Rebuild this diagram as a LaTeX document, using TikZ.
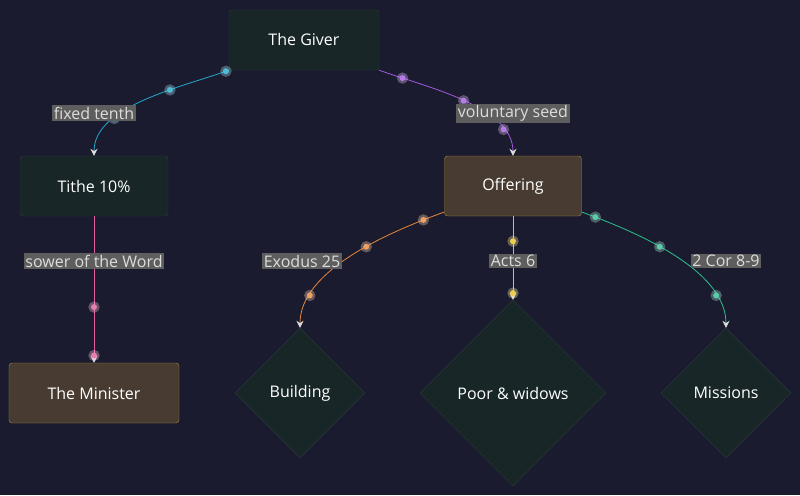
\documentclass[tikz,border=0pt]{standalone}
\usepackage{fontspec}
\setmainfont{Open Sans}
\usetikzlibrary{arrows.meta,shapes.geometric}
\definecolor{bg}{HTML}{1A1B2E}
\definecolor{boxdark}{HTML}{182628}
\definecolor{boxbrown}{HTML}{483C32}
\definecolor{gold}{HTML}{A8863C}
\definecolor{lblbg}{HTML}{5E5E5E}
\definecolor{tip}{HTML}{DDDDDD}
\definecolor{ccyan}{HTML}{22AACC}
\definecolor{cpurple}{HTML}{A259E0}
\definecolor{cpink}{HTML}{E05C9C}
\definecolor{corange}{HTML}{E8883A}
\definecolor{cyellow}{HTML}{E8C020}
\definecolor{cgreen}{HTML}{2EC090}
\tikzset{
  box/.style={rectangle, rounded corners=3pt, minimum width=150pt, minimum height=60pt,
    fill=boxdark, draw=boxdark!90!white, text=white, font=\fontsize{16}{19}\selectfont},
  boxb/.style={box, fill=boxbrown, draw=gold, minimum width=137pt},
  dia/.style={diamond, fill=boxdark, draw=boxdark!90!white, text=white, aspect=1,
    inner sep=0pt, font=\fontsize{16}{19}\selectfont},
  lbl/.style={fill=lblbg, text=tip, inner sep=1.5pt, font=\fontsize{16}{19}\selectfont},
  link/.style={line width=0.8pt, -{Stealth[length=7pt,width=7pt,color=tip]}},
  dot/.style={circle, fill=#1, inner sep=0pt, minimum size=6pt,
    draw=white!60!#1, draw opacity=0.35, line width=5pt},
}
\begin{document}
\begin{tikzpicture}[x=1pt,y=-1pt]
  \fill[bg] (0,0) rectangle (800,495);
  \useasboundingbox (0,0) rectangle (800,495);
  % nodes
  \node[box]  (giver)    at (304,40)  {The Giver};
  \node[box, minimum width=148pt] (tithe) at (94,186) {Tithe 10\%};
  \node[boxb] (offering) at (513,186) {Offering};
  \node[boxb, minimum width=170pt] (minister) at (94,393) {The Minister};
  \node[dia, minimum size=130pt] (building) at (300,393) {Building};
  \node[dia, minimum size=186pt] (poor)     at (513,393) {Poor \& widows};
  \node[dia, minimum size=130pt] (missions) at (726,393) {Missions};
  % connectors
  \draw[link, ccyan] (giver.south west) to[out=200,in=90,looseness=0.8]
    node[dot=ccyan,pos=0.02]{} node[dot=ccyan,pos=0.35]{} node[dot=ccyan,pos=0.7]{} (tithe.north);
  \draw[link, cpurple] (giver.south east) to[out=-20,in=90,looseness=0.8]
    node[dot=cpurple,pos=0.15]{} node[dot=cpurple,pos=0.5]{} node[dot=cpurple,pos=0.8]{} (offering.north);
  \draw[link, cpink] (tithe.south) --
    node[dot=cpink,pos=0.3]{} node[dot=cpink,pos=0.62]{} node[dot=cpink,pos=0.95]{} (minister.north);
  \draw[link, corange] (offering.west) ++(0,26) coordinate (o1)
    (o1) to[out=200,in=90,looseness=0.8]
    node[dot=corange,pos=0.12]{} node[dot=corange,pos=0.42]{} node[dot=corange,pos=0.8]{} (building.north);
  \draw[link, cyellow] (offering.south) --
    node[dot=cyellow,pos=0.3]{} node[dot=cyellow,pos=0.92]{} (poor.north);
  \draw[link, cgreen] (offering.east) ++(0,26) coordinate (o2)
    (o2) to[out=-20,in=90,looseness=0.8]
    node[dot=cgreen,pos=0.08]{} node[dot=cgreen,pos=0.42]{} node[dot=cgreen,pos=0.8]{} (missions.north);
  % labels
  \node[lbl] (l1) at (94,113)  {fixed tenth};
  \node[lbl] (l2) at (513,113) {voluntary seed};
  \node[lbl] (l3) at (94,261)  {sower of the Word};
  \node[lbl] (l4) at (302,261) {Exodus 25};
  \node[lbl] (l5) at (513,261) {Acts 6};
  \node[lbl] (l6) at (726,261) {2 Cor 8-9};
\end{tikzpicture}
\end{document}
